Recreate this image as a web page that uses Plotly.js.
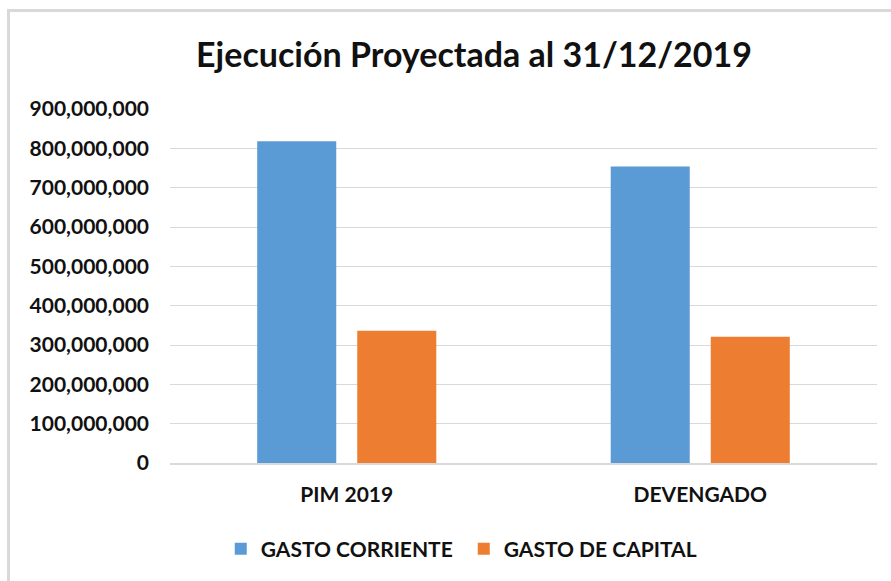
<!DOCTYPE html>
<html>
<head>
<meta charset="utf-8">
<script src="https://cdn.plot.ly/plotly-3.0.1.min.js"></script>
<style>
  html, body { margin: 0; padding: 0; background: #fff; }
  #wrap { position: relative; width: 891px; height: 581px; overflow: hidden; }
  #chart { width: 891px; height: 581px; }
  #frame { position: absolute; left: 7px; top: 9px; width: 900px; height: 600px;
           border-left: 3px solid #d9d9d9; border-top: 3px solid #d9d9d9; pointer-events: none; }
</style>
</head>
<body>
<div id="wrap">
  <div id="chart"></div>
  <div id="frame"></div>
</div>
<script>
const categories = ["PIM 2019", "DEVENGADO"];
const gastoCorriente = [818000000, 754000000];
const gastoCapital = [336000000, 321000000];
const seriesNames = ["GASTO CORRIENTE", "GASTO DE CAPITAL"];
const yTicks = [0, 100000000, 200000000, 300000000, 400000000, 500000000, 600000000, 700000000, 800000000, 900000000];
const yTickLabels = ["0", "100,000,000", "200,000,000", "300,000,000", "400,000,000", "500,000,000", "600,000,000", "700,000,000", "800,000,000", "900,000,000"];

const font = "Lato, 'Open Sans', sans-serif";

const traces = [
  { type: "bar", name: seriesNames[0], x: categories, y: gastoCorriente,
    marker: { color: "#5B9BD5" }, hoverinfo: "skip" },
  { type: "bar", name: seriesNames[1], x: categories, y: gastoCapital,
    marker: { color: "#ED7D31" }, hoverinfo: "skip" }
];

const layout = {
  width: 891, height: 581,
  margin: { l: 170, r: 14, t: 109, b: 117 },
  paper_bgcolor: "#fff", plot_bgcolor: "#fff",
  font: { family: font, color: "#111", size: 20 },
  title: { text: "<b>Ejecución Proyectada al 31/12/2019</b>",
           font: { family: font, size: 34, color: "#111" },
           x: 0.532, xanchor: "center", y: 0.905, yanchor: "middle" },
  barmode: "group", bargap: 0.434, bargroupgap: 0.21,
  xaxis: { type: "category", showgrid: false, zeroline: false,
           showline: true, linecolor: "#d9d9d9", linewidth: 1.5,
           ticks: "", ticklabelstandoff: 12,
           tickfont: { family: font, size: 21, color: "#111", weight: "bold" } },
  yaxis: { range: [0, 900000000], tickvals: yTicks, ticktext: yTickLabels,
           showgrid: true, gridcolor: "#d9d9d9", gridwidth: 1,
           zeroline: false, showline: false, ticks: "", ticklabelstandoff: 20,
           tickfont: { family: font, size: 21, color: "#111", weight: "bold" } },
  showlegend: true,
  legend: { orientation: "h", x: 0.4155, xanchor: "center", y: -0.24, yanchor: "middle",
            font: { family: font, size: 21, color: "#111", weight: "bold" },
            itemwidth: 30, entrywidth: 198, traceorder: "normal" }
};

Plotly.newPlot("chart", traces, layout, { displayModeBar: false, staticPlot: true });
</script>
</body>
</html>
